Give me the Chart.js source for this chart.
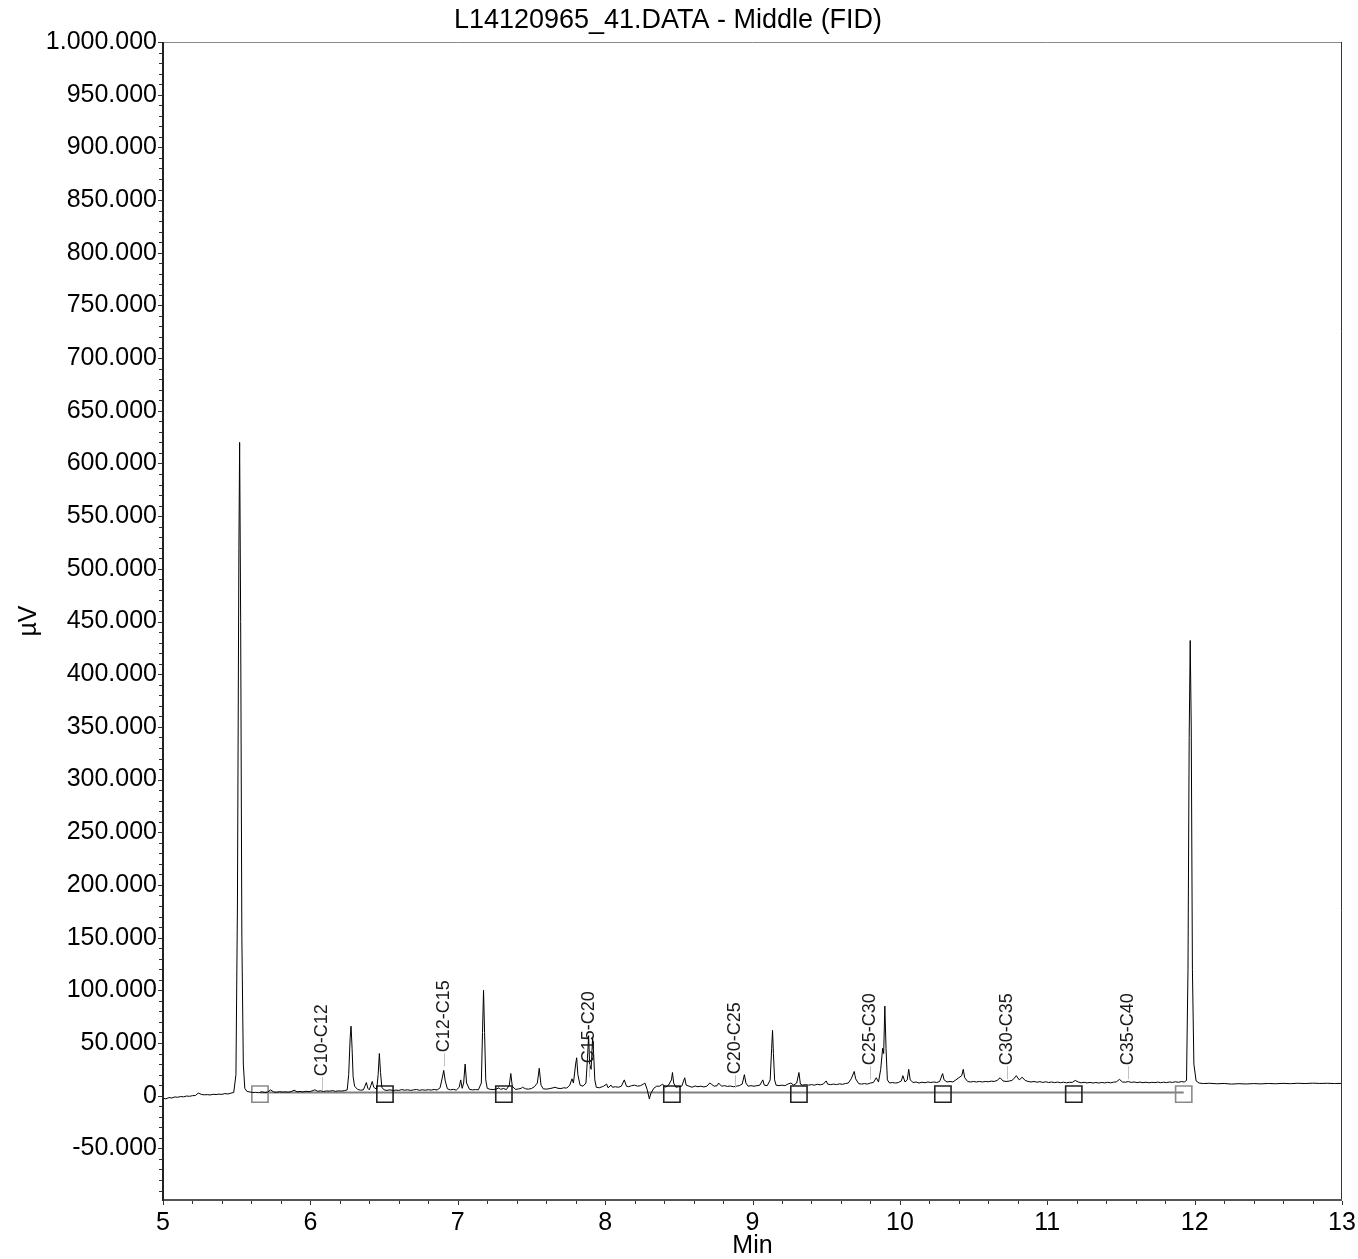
<!DOCTYPE html>
<html><head><meta charset="utf-8">
<script src="https://cdn.jsdelivr.net/npm/chart.js@4/dist/chart.umd.min.js"></script>
<style>html,body{margin:0;padding:0;background:#fff;}canvas{display:block;}</style>
</head><body>
<canvas id="c" width="1358" height="1259"></canvas>
<script>
const titleText = 'L14120965_41.DATA - Middle (FID)';
const xTitle = 'Min';
const yTitle = 'µV';
const xTicks = [5, 6, 7, 8, 9, 10, 11, 12, 13];
const yTicks = [-50000, 0, 50000, 100000, 150000, 200000, 250000, 300000, 350000, 400000, 450000, 500000, 550000, 600000, 650000, 700000, 750000, 800000, 850000, 900000, 950000, 1000000];

const times = [
5.00,5.02,5.04,5.06,5.08,5.10,5.12,5.14,5.16,5.18,5.20,5.22,5.24,5.26,5.28,5.30,5.32,5.34,5.36,5.38,5.40,5.42,5.44,5.46,5.48,
5.495,5.505,5.515,5.52,5.527,5.535,5.545,5.555,5.57,5.59,5.61,5.63,5.65,5.67,5.69,5.71,5.73,5.75,5.77,5.79,5.81,5.83,5.85,5.87,5.89,5.91,5.93,5.95,5.97,5.99,
6.01,6.03,6.05,6.07,6.09,6.11,6.13,6.15,6.17,6.19,6.21,6.23,6.25,6.26,6.27,6.276,6.283,6.29,6.30,6.32,6.34,6.36,6.37,6.38,6.39,6.40,6.41,6.42,6.43,6.45,6.46,6.468,6.476,6.485,
6.50,6.52,6.54,6.56,6.58,6.60,6.62,6.64,6.66,6.68,6.70,6.72,6.74,6.76,6.78,6.80,6.82,6.84,6.86,6.88,6.895,6.905,6.915,6.93,6.95,6.97,6.99,
7.01,7.02,7.03,7.04,7.05,7.06,7.08,7.10,7.12,7.14,7.16,7.168,7.175,7.182,7.19,7.20,7.22,7.24,7.26,7.28,7.29,7.31,7.33,7.35,7.36,7.37,7.39,
7.41,7.43,7.44,7.46,7.48,7.50,7.52,7.54,7.553,7.565,7.58,7.60,7.62,7.64,7.66,7.68,7.70,7.72,7.74,7.76,7.775,7.785,7.80,7.807,7.815,7.83,7.85,7.87,7.88,7.888,7.895,7.905,7.915,7.922,7.93,7.94,7.96,7.98,7.99,
8.01,8.02,8.04,8.05,8.07,8.09,8.11,8.13,8.145,8.16,8.18,8.20,8.22,8.24,8.26,8.27,8.285,8.30,8.31,8.33,8.35,8.37,8.39,8.41,8.43,8.45,8.457,8.465,8.48,
8.50,8.52,8.54,8.55,8.57,8.59,8.61,8.63,8.65,8.67,8.69,8.71,8.72,8.74,8.76,8.77,8.79,8.81,8.83,8.85,8.87,8.89,8.91,8.93,8.945,8.955,8.97,8.99,
9.01,9.03,9.05,9.07,9.08,9.10,9.12,9.13,9.136,9.142,9.15,9.16,9.18,9.20,9.22,9.24,9.26,9.28,9.30,9.315,9.325,9.34,9.36,9.38,9.40,9.42,9.44,9.46,9.48,
9.50,9.51,9.53,9.55,9.57,9.59,9.61,9.63,9.65,9.67,9.69,9.70,9.72,9.74,9.76,9.78,9.80,9.82,9.84,9.855,9.87,9.883,9.89,9.898,9.906,9.915,9.93,9.95,9.97,9.99,
10.01,10.02,10.035,10.05,10.06,10.07,10.09,10.11,10.13,10.15,10.17,10.19,10.21,10.23,10.25,10.27,10.29,10.30,10.32,10.34,10.36,10.38,10.40,10.42,10.43,10.44,10.46,10.48,
10.50,10.52,10.54,10.56,10.58,10.60,10.62,10.64,10.66,10.68,10.70,10.72,10.74,10.76,10.78,10.79,10.81,10.83,10.85,10.87,10.89,10.91,10.93,10.95,10.97,10.99,
11.01,11.03,11.05,11.07,11.09,11.11,11.13,11.15,11.17,11.19,11.21,11.23,11.25,11.27,11.29,11.31,11.33,11.35,11.37,11.39,11.41,11.43,11.45,11.47,11.49,
11.51,11.53,11.55,11.57,11.59,11.61,11.63,11.65,11.67,11.69,11.71,11.73,11.75,11.77,11.79,11.81,11.83,11.85,11.87,11.89,11.91,11.93,11.945,11.955,11.963,11.97,11.977,11.985,11.995,
12.01,12.03,12.06,12.10,12.15,12.20,12.25,12.30,12.35,12.40,12.45,12.50,12.55,12.60,12.65,12.70,12.75,12.80,12.85,12.90,12.95,13.00
];
const signal = [
-2500,-3000,-1800,-2200,-1200,-1500,-800,-1100,-300,-600,0,200,2500,1200,800,1000,700,1300,1100,1500,1200,2000,1600,2400,3000,
20000,180000,520000,620000,450000,150000,30000,7000,4000,3500,3000,3200,2800,3600,3000,3400,5500,3600,3200,3800,3400,3600,3300,3900,5200,3700,4000,3600,4200,3800,
4400,5600,4200,4600,4000,4500,4300,4800,4100,4600,4400,4700,5500,20000,55000,66000,45000,18000,9000,6000,5200,5600,9000,12500,7000,5500,9500,13500,8000,6000,20000,40000,22000,8000,
5500,5000,5600,4800,5300,5000,5800,5200,5600,5000,5500,5900,5100,5600,5200,5700,5300,5900,5400,7500,17000,24000,14000,6500,5500,6000,5300,
8000,15000,7000,12000,30000,12000,6000,5500,5800,5600,12000,60000,100000,60000,15000,7000,6000,5800,6200,7500,6000,6800,5800,10000,21000,9000,6000,
6300,7000,8000,6500,6200,6800,8500,12000,26000,10000,6500,6200,6600,7200,8000,7000,6800,7500,7200,10000,16000,12000,30000,36000,20000,10000,9000,12000,35000,57000,30000,25000,55000,40000,15000,8000,7500,8500,9000,
11000,7500,10000,8000,8500,8000,9000,15000,9000,8500,9500,10000,9000,9500,11000,12000,6000,-3000,2000,7000,9000,9000,11000,8000,10000,15000,22000,12000,8000,
8500,9000,17000,10000,9000,8000,9200,8500,9000,8300,9000,12000,11000,9000,9500,12000,9000,9500,8800,9200,8500,9000,9500,11000,20000,12000,9000,9500,
9000,9500,10000,15000,10000,9500,15000,45000,62000,40000,15000,10000,9500,10000,9500,11000,12000,10000,12000,22000,11000,10000,10500,10000,10500,10000,10800,10300,11000,
14000,11000,10500,11000,10500,11200,10800,11500,12000,16000,23000,16000,11500,11000,11500,11000,12000,12500,17000,13000,25000,45000,40000,85000,45000,15000,12000,12500,12000,12500,
14000,19000,13000,15000,25000,15000,12500,13000,12000,12800,12300,13000,12500,13000,12500,13500,21000,15000,13000,13500,13000,15000,17000,19000,25000,17000,13500,13000,
13500,13000,13500,13000,13500,13200,13800,13500,14500,17000,14000,13500,13800,14500,17000,19000,15000,17500,14500,13500,13000,13500,12800,13300,12600,13200,
12500,13000,12400,12900,12300,12800,12200,12700,12600,14500,13000,12200,12700,12100,12600,12000,12500,12000,12600,12100,12700,12200,12800,13200,15500,
13000,12800,13400,12600,13000,12400,12900,12300,12800,12200,12700,12400,12900,12300,12800,12400,13000,12600,13200,12700,13400,13000,14500,120000,340000,432000,350000,120000,30000,
14000,12000,11500,11800,11300,11600,11000,11400,11100,11500,11200,11600,11300,11700,11400,11800,11500,11900,11600,11800,11500,11700
];

const baselineTimes = [5.658, 11.926];
const baselineValues = [3000, 3000];
const markerTimes = [5.658, 6.506, 7.313, 8.453, 9.315, 10.292, 11.180, 11.926];
const markerValues = [1500, 1500, 1500, 1500, 1500, 1500, 1500, 1500];
const markerColors = ['#8a8a8a', '#222', '#222', '#222', '#222', '#222', '#222', '#8a8a8a'];

const rangeLabels = ['C10-C12', 'C12-C15', 'C15-C20', 'C20-C25', 'C25-C30', 'C30-C35', 'C35-C40'];
const rangeLabelTimes = [6.08, 6.91, 7.89, 8.88, 9.80, 10.73, 11.55];
const rangeLabelValues = [5200, 28000, 17500, 7000, 15600, 15600, 15600];

const FONT = 'Liberation Sans, Arial, sans-serif';

function fmt(v) {
  const s = Math.abs(Math.round(v)).toString().replace(/\B(?=(\d{3})+(?!\d))/g, '.');
  return (v < 0 ? '-' : '') + s;
}

const framePlugin = {
  id: 'frame',
  afterDatasetsDraw(chart) {
    const ctx = chart.ctx;
    const xs = chart.scales.x, ys = chart.scales.y;
    ctx.save();
    ctx.font = '18px ' + FONT;
    for (let i = 0; i < rangeLabels.length; i++) {
      const px = Math.round(xs.getPixelForValue(rangeLabelTimes[i])) + 0.5;
      const py = ys.getPixelForValue(rangeLabelValues[i]);
      ctx.strokeStyle = '#c0c0c0';
      ctx.lineWidth = 1;
      ctx.beginPath();
      ctx.moveTo(px, py);
      ctx.lineTo(px, py - 13);
      ctx.stroke();
      ctx.save();
      ctx.translate(px, py - 14);
      ctx.rotate(-Math.PI / 2);
      ctx.fillStyle = '#1a1a1a';
      ctx.textAlign = 'left';
      ctx.textBaseline = 'middle';
      ctx.fillText(rangeLabels[i], 0, 0);
      ctx.restore();
    }
    ctx.restore();
  },
  afterDraw(chart) {
    const ctx = chart.ctx;
    const xs = chart.scales.x, ys = chart.scales.y;
    const a = chart.chartArea;
    ctx.save();
    ctx.lineWidth = 1;
    ctx.strokeStyle = '#8a8a8a';
    ctx.beginPath(); ctx.moveTo(a.left, a.top + 0.5); ctx.lineTo(a.right, a.top + 0.5); ctx.stroke();
    ctx.strokeStyle = '#333';
    ctx.beginPath(); ctx.moveTo(a.right - 0.5, a.top); ctx.lineTo(a.right - 0.5, a.bottom); ctx.stroke();
    ctx.lineWidth = 2;
    ctx.strokeStyle = '#555';
    ctx.beginPath(); ctx.moveTo(a.left, a.bottom); ctx.lineTo(a.right, a.bottom); ctx.stroke();
    ctx.strokeStyle = '#222';
    ctx.beginPath(); ctx.moveTo(a.left, a.top); ctx.lineTo(a.left, a.bottom + 1); ctx.stroke();
    ctx.lineWidth = 1;
    ctx.strokeStyle = '#333';
    for (let v = -90000; v <= 1000000; v += 10000) {
      const py = Math.round(ys.getPixelForValue(v)) + 0.5;
      const len = (v % 50000 === 0) ? 4 : 3;
      ctx.beginPath(); ctx.moveTo(a.left - 1 - len, py); ctx.lineTo(a.left - 1, py); ctx.stroke();
    }
    for (let k = 0; k <= 40; k++) {
      const v = 5 + k * 0.2;
      const px = Math.round(xs.getPixelForValue(v)) + 0.5;
      const len = (k % 5 === 0) ? 4 : 3;
      ctx.beginPath(); ctx.moveTo(px, a.bottom + 1); ctx.lineTo(px, a.bottom + 1 + len); ctx.stroke();
    }
    ctx.fillStyle = '#000';
    ctx.font = '27px ' + FONT;
    ctx.textAlign = 'center';
    ctx.textBaseline = 'middle';
    ctx.fillText(titleText, 668, 21);
    ctx.restore();
  }
};

new Chart(document.getElementById('c'), {
  type: 'line',
  data: {
    datasets: [
      {
        label: 'signal',
        data: times.map((t, i) => ({ x: t, y: signal[i] })),
        borderColor: '#000',
        borderWidth: 1,
        pointRadius: 0,
        tension: 0,
        fill: false,
        order: 1
      },
      {
        label: 'baseline',
        data: baselineTimes.map((t, i) => ({ x: t, y: baselineValues[i] })),
        borderColor: '#808080',
        borderWidth: 2,
        pointRadius: 0,
        fill: false,
        order: 3
      },
      {
        label: 'markers',
        type: 'scatter',
        data: markerTimes.map((t, i) => ({ x: t, y: markerValues[i] })),
        showLine: false,
        pointStyle: 'rect',
        pointRadius: 11.5,
        pointBorderWidth: 1.6,
        pointBorderColor: markerColors,
        pointBackgroundColor: 'rgba(0,0,0,0)',
        borderColor: markerColors,
        backgroundColor: 'rgba(0,0,0,0)',
        order: 2
      }
    ]
  },
  options: {
    responsive: false,
    animation: false,
    devicePixelRatio: 1,
    layout: { padding: { top: 42, right: 16, left: 0, bottom: 0 } },
    plugins: { legend: { display: false }, title: { display: false }, tooltip: { enabled: false } },
    scales: {
      x: {
        type: 'linear', min: 5, max: 13,
        border: { display: false },
        grid: { display: false, drawTicks: false },
        afterBuildTicks: s => { s.ticks = xTicks.map(v => ({ value: v })); },
        ticks: { color: '#000', font: { family: FONT, size: 25 }, padding: 8, maxRotation: 0, autoSkip: false },
        title: { display: true, text: xTitle, color: '#000', font: { family: FONT, size: 25, lineHeight: 1 }, padding: { top: 0, bottom: 0 } },
        afterFit: s => { s.height = 59; s.paddingLeft = 0; s.paddingRight = 0; }
      },
      y: {
        type: 'linear', min: -99000, max: 1000000,
        border: { display: false },
        grid: { display: false, drawTicks: false },
        afterBuildTicks: s => { s.ticks = yTicks.map(v => ({ value: v })); },
        ticks: { color: '#000', font: { family: FONT, size: 25 }, padding: 6, autoSkip: false, callback: v => fmt(v) },
        title: { display: true, text: yTitle, color: '#000', font: { family: FONT, size: 25, lineHeight: 1 }, padding: { top: 17, bottom: 0 } },
        afterFit: s => { s.width = 163; s.paddingTop = 0; s.paddingBottom = 0; }
      }
    }
  },
  plugins: [framePlugin]
});
</script>
</body></html>
